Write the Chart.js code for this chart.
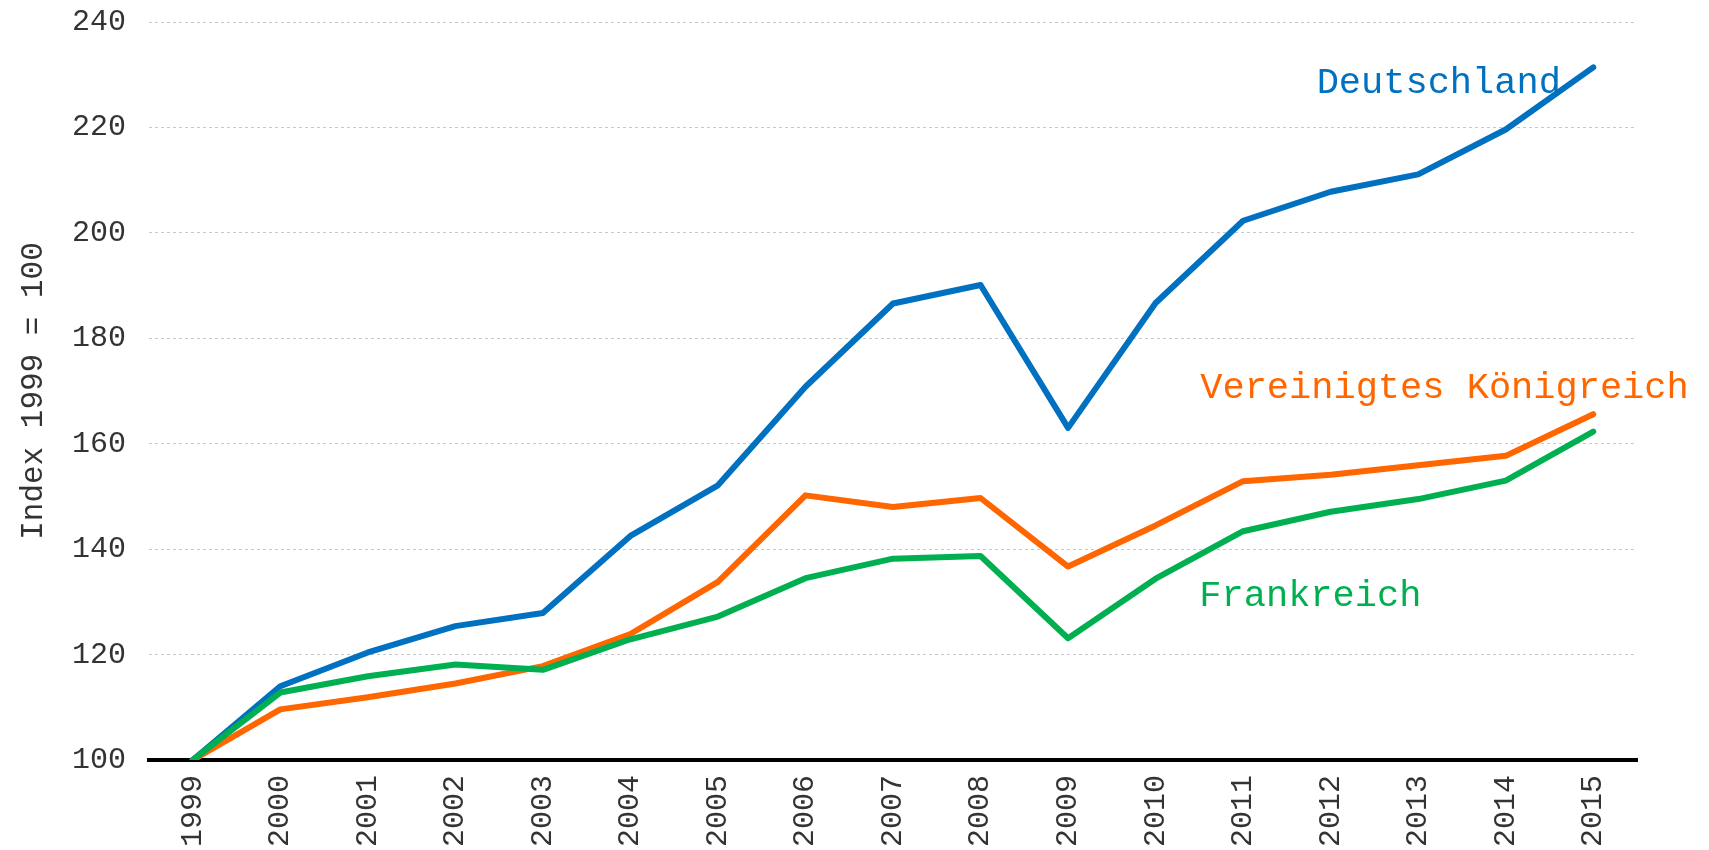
<!DOCTYPE html>
<html>
<head>
<meta charset="utf-8">
<script src="https://cdn.jsdelivr.net/npm/chart.js@4.4.0/dist/chart.umd.min.js"></script>
<style>
  html, body { margin: 0; padding: 0; background: #fff; }
  #wrap { width: 1709px; height: 850px; }
</style>
</head>
<body>
<div id="wrap"><canvas id="lineChart"></canvas></div>
<script>
// Jahre und Indexwerte (1999 = 100)
var years = ['1999', '2000', '2001', '2002', '2003', '2004', '2005', '2006', '2007',
             '2008', '2009', '2010', '2011', '2012', '2013', '2014', '2015'];
var deutschland = [100, 114.0, 120.4, 125.4, 127.9, 142.5, 152.1, 170.8, 186.6,
                   190.1, 163.0, 186.7, 202.3, 207.8, 211.1, 219.6, 231.4];
var vereinigtesKoenigreich = [100, 109.6, 111.9, 114.5, 117.8, 123.9, 133.8, 150.2, 148.0,
                              149.7, 136.7, 144.5, 152.9, 154.1, 155.9, 157.7, 165.6];
var frankreich = [100, 112.8, 115.9, 118.1, 117.1, 122.9, 127.2, 134.5, 138.2,
                  138.7, 123.1, 134.4, 143.4, 147.1, 149.5, 153.0, 162.3];
var yTicks = [100, 120, 140, 160, 180, 200, 220, 240];

var BLUE = '#0070C0';
var ORANGE = '#FF6600';
var GREEN = '#00B050';
var FONT = "'Courier New', 'Liberation Mono', monospace";

// Beschriftungen direkt im Diagramm (x = Kategorie-Index, y = Indexwert der Grundlinie)
var seriesLabels = [
    { text: 'Deutschland', color: BLUE, x: 12.84, y: 226.6 },
    { text: 'Vereinigtes Königreich', color: ORANGE, x: 11.51, y: 168.7 },
    { text: 'Frankreich', color: GREEN, x: 11.50, y: 129.3 }
];

var labelPlugin = {
    id: 'seriesLabels',
    afterDatasetsDraw: function(chart) {
        var ctx = chart.ctx;
        var xs = chart.scales.x, ys = chart.scales.y;
        ctx.save();
        ctx.font = '37px ' + FONT;
        ctx.textAlign = 'left';
        ctx.textBaseline = 'alphabetic';
        seriesLabels.forEach(function(l) {
            ctx.fillStyle = l.color;
            ctx.fillText(l.text, xs.getPixelForValue(l.x), ys.getPixelForValue(l.y));
        });
        ctx.restore();
    }
};

function makeSet(label, data, color) {
    return {
        label: label,
        data: data,
        borderColor: color,
        backgroundColor: color,
        borderWidth: 6,
        pointRadius: 0,
        pointHoverRadius: 0,
        tension: 0,
        borderJoinStyle: 'round',
        borderCapStyle: 'round',
        fill: false
    };
}

var ctx = document.getElementById('lineChart').getContext('2d');
var myChart = new Chart(ctx, {
    type: 'line',
    data: {
        labels: years,
        datasets: [
            makeSet('Frankreich', frankreich, GREEN),
            makeSet('Vereinigtes Königreich', vereinigtesKoenigreich, ORANGE),
            makeSet('Deutschland', deutschland, BLUE)
        ]
    },
    options: {
        responsive: true,
        maintainAspectRatio: false,
        animation: false,
        layout: { padding: { top: 22, right: 72, bottom: 0, left: 0 } },
        plugins: {
            legend: { display: false },
            tooltip: { enabled: false }
        },
        scales: {
            x: {
                offset: true,
                grid: { display: false, drawTicks: false },
                border: { display: true, color: '#000', width: 4 },
                ticks: {
                    minRotation: 90,
                    maxRotation: 90,
                    padding: 15,
                    color: '#333',
                    font: { family: FONT, size: 30 }
                },
                afterFit: function(scale) { scale.height = 90; }
            },
            y: {
                min: 100,
                max: 240,
                afterBuildTicks: function(scale) {
                    scale.ticks = yTicks.map(function(v) { return { value: v }; });
                },
                grid: {
                    color: '#c8c8c8',
                    lineWidth: 1,
                    drawTicks: false
                },
                border: { display: false, dash: [3, 3] },
                ticks: {
                    padding: 23,
                    color: '#333',
                    font: { family: FONT, size: 30 }
                },
                title: {
                    display: true,
                    text: 'Index 1999 = 100',
                    color: '#333',
                    font: { family: FONT, size: 31 },
                    padding: { top: 15, bottom: 0 }
                },
                afterFit: function(scale) {
                    scale.width = 149;
                    scale.paddingTop = 0;
                    scale.paddingBottom = 0;
                }
            }
        }
    },
    plugins: [labelPlugin]
});
</script>
</body>
</html>
